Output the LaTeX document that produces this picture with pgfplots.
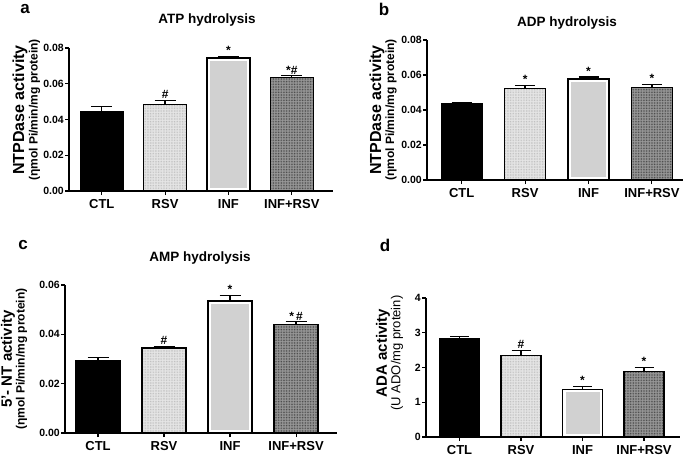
\documentclass[border=0pt]{standalone}
\usepackage{fontspec}
\setmainfont{Liberation Sans}
\usepackage{pgfplots}
\pgfplotsset{compat=1.18}
\usetikzlibrary{patterns.meta}

\definecolor{infgray}{gray}{0.82}
\definecolor{rsvbase}{gray}{0.90}
\definecolor{mixbase}{gray}{0.60}

\tikzset{sig/.style={anchor=south, inner sep=1.5pt, font=\fontsize{12}{13}\selectfont\bfseries}}

\pgfplotsset{
  panel/.style={
    scale only axis, anchor=south west,
    axis lines=left, axis line style={-, line width=1.1pt},
    ymin=0, tick align=outside, major tick length=4pt,
    tick style={line width=1.1pt, black},
    xtick={0,1,2,3}, xticklabels={CTL,RSV,INF,INF+RSV},
    x tick label style={font=\fontsize{13}{14}\selectfont\bfseries, yshift=-1pt},
    y tick label style={font=\fontsize{10.5}{12}\selectfont\bfseries, inner sep=1pt},
    scaled y ticks=false,
    /pgf/number format/assume math mode=true,
    /pgf/number format/.cd, fixed, fixed zerofill, precision=2, /pgfplots/.cd,
    ybar, axis on top, clip=false,
  },
  err/.style={
    error bars/.cd, y dir=plus, y explicit,
    error bar style={line width=1.3pt, black},
    error mark options={rotate=90, mark size=#1, line width=1.3pt, black},
  },
  ctl/.style={bar shift=0pt, fill=black, draw=black, line width=1.2pt},
  rsv/.style={bar shift=0pt, fill=rsvbase, draw=black, line width=1.2pt,
    postaction={pattern={Dots[distance=1.6pt, radius=0.35pt]}, pattern color=gray!70}},
  infin/.style={bar shift=0pt, fill=infgray, draw=white, line width=6pt},
  infout/.style={bar shift=0pt, fill=none, draw=black, line width=1.8pt},
  mix/.style={bar shift=0pt, fill=mixbase, draw=black, line width=1.2pt,
    postaction={pattern={Dots[distance=1.6pt, radius=0.45pt]}, pattern color=black!80}},
}

\begin{document}
\begin{tikzpicture}
\useasboundingbox (0,0) rectangle (685pt,-459pt);

% ---------- a: ATP ----------
\begin{axis}[panel, at={(69pt,-191pt)}, width=264pt, height=143pt,
  xmin=-0.517, xmax=3.65, ymax=0.08, ytick={0,0.02,...,0.081}, bar width=43pt]
\addplot[ctl, err=10.5pt] coordinates {(0,0.0444) +- (0,0.0028)};
\addplot[rsv, err=10.5pt] coordinates {(1,0.0485) +- (0,0.0021)};
\addplot[infin] coordinates {(2,0.0744)};
\addplot[infout, err=10.5pt] coordinates {(2,0.0744) +- (0,0.0009)};
\addplot[mix, err=10.5pt] coordinates {(3,0.0635) +- (0,0.0010)};
\node[sig] at (axis cs:1,0.0506) {\#};
\node[sig] at (axis cs:2,0.0753) {*};
\node[sig] at (axis cs:3,0.0645) {*\#};
\end{axis}

% ---------- b: ADP ----------
\begin{axis}[panel, at={(427pt,-180pt)}, width=256pt, height=140pt,
  xmin=-0.547, xmax=3.49, ymax=0.08, ytick={0,0.02,...,0.081}, bar width=41pt]
\addplot[ctl, err=10pt] coordinates {(0,0.0438) +- (0,0.0004)};
\addplot[rsv, err=10pt] coordinates {(1,0.0524) +- (0,0.0017)};
\addplot[infin] coordinates {(2,0.0577)};
\addplot[infout, err=10pt] coordinates {(2,0.0577) +- (0,0.0012)};
\addplot[mix, err=10pt] coordinates {(3,0.0530) +- (0,0.0017)};
\node[sig] at (axis cs:1,0.0541) {*};
\node[sig] at (axis cs:2,0.0589) {*};
\node[sig] at (axis cs:3,0.0547) {*};
\end{axis}

% ---------- c: AMP ----------
\begin{axis}[panel, at={(65pt,-433pt)}, width=272pt, height=148pt,
  xmin=-0.5, xmax=3.62, ymax=0.06, ytick={0,0.02,...,0.061}, bar width=44pt]
\addplot[ctl, err=10.5pt] coordinates {(0,0.0293) +- (0,0.0012)};
\addplot[rsv, err=10.5pt] coordinates {(1,0.0345) +- (0,0.0006)};
\addplot[infin] coordinates {(2,0.0535)};
\addplot[infout, err=10.5pt] coordinates {(2,0.0535) +- (0,0.0022)};
\addplot[mix, err=10.5pt] coordinates {(3,0.0440) +- (0,0.0011)};
\node[sig] at (axis cs:1,0.0351) {\#};
\node[sig] at (axis cs:2,0.0557) {*};
\node[sig] at (axis cs:3,0.0451) {*\,\#};
\end{axis}

% ---------- d: ADA ----------
\begin{axis}[panel, at={(426pt,-437pt)}, width=254pt, height=139pt,
  xmin=-0.545, xmax=3.585, ymax=4, ytick={0,1,2,3,4}, bar width=40pt,
  /pgf/number format/precision=0]
\addplot[ctl, err=9.5pt] coordinates {(0,2.82) +- (0,0.08)};
\addplot[rsv, err=9.5pt] coordinates {(1,2.35) +- (0,0.14)};
\addplot[infin] coordinates {(2,1.37)};
\addplot[infout, err=9.5pt] coordinates {(2,1.37) +- (0,0.09)};
\addplot[mix, err=9.5pt] coordinates {(3,1.89) +- (0,0.11)};
\node[sig] at (axis cs:1,2.49) {\#};
\node[sig] at (axis cs:2,1.46) {*};
\node[sig] at (axis cs:3,2.00) {*};
\end{axis}

% ---------- panel letters and titles ----------
\begin{scope}[every node/.style={font=\fontsize{17}{18}\selectfont\bfseries, inner sep=0pt}]
\node at (25pt,-9pt) {a};
\node at (384pt,-9pt) {b};
\node at (23pt,-245pt) {c};
\node at (385pt,-245pt) {d};
\end{scope}
\begin{scope}[every node/.style={font=\fontsize{13.5}{14}\selectfont\bfseries, inner sep=0pt}]
\node at (207pt,-20pt) {ATP hydrolysis};
\node at (567pt,-23pt) {ADP hydrolysis};
\node at (200pt,-258pt) {AMP hydrolysis};
\end{scope}

% ---------- y labels ----------
\begin{scope}[every node/.style={rotate=90, inner sep=0pt}]
\node[font=\fontsize{16}{17}\selectfont\bfseries] at (20pt,-110pt) {NTPDase activity};
\node[font=\fontsize{12}{13}\selectfont\bfseries] at (34.5pt,-110pt) {(ηmol Pi/min/mg protein)};
\node[font=\fontsize{16}{17}\selectfont\bfseries] at (377pt,-110pt) {NTPDase activity};
\node[font=\fontsize{12}{13}\selectfont\bfseries] at (391pt,-110pt) {(ηmol Pi/min/mg protein)};
\node[font=\fontsize{15}{16}\selectfont\bfseries] at (8pt,-359pt) {5'- NT activity};
\node[font=\fontsize{12}{13}\selectfont\bfseries] at (21.5pt,-359pt) {(ηmol Pi/min/mg protein)};
\node[font=\fontsize{15}{16}\selectfont\bfseries] at (383pt,-353pt) {ADA activity};
\node[font=\fontsize{13}{14}\selectfont] at (397pt,-353pt) {(U ADO/mg protein)};
\end{scope}
\end{tikzpicture}
\end{document}
